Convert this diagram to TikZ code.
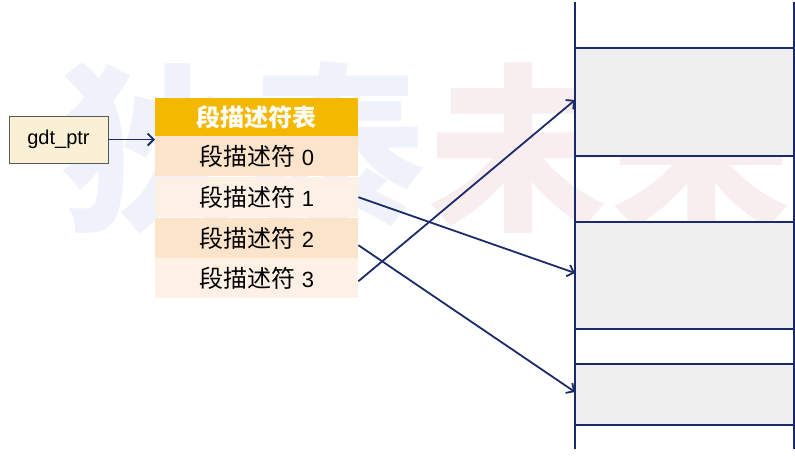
\documentclass[tikz,border=0pt]{standalone}
\usepackage{fontspec}
\setmainfont{Liberation Sans}
\newfontfamily\cjk{Noto Sans CJK SC}
\newfontfamily\lat{Liberation Sans}
\usetikzlibrary{arrows.meta,positioning}
\definecolor{navy}{HTML}{1B2A6B}
\definecolor{hdrc}{HTML}{F5B800}
\definecolor{rowa}{HTML}{FCE4CA}
\definecolor{rowb}{HTML}{FDF1E5}
\definecolor{ptrfill}{HTML}{FAF0D6}
\definecolor{memfill}{HTML}{EFEFEF}
\definecolor{wmblue}{HTML}{EFF2FA}
\definecolor{wmpink}{HTML}{F8EEF0}
\newcommand{\dg}[1]{{\lat\fontsize{22}{22}\selectfont #1}}
\tikzset{
  row/.style={minimum width=203pt, minimum height=40pt, inner sep=0pt, anchor=north west, text=black, font=\fontsize{24}{24}\selectfont},
  wm/.style={inner sep=0pt, font=\cjk\bfseries\fontsize{180}{180}\selectfont},
  arr/.style={draw=navy, line width=1.8pt, -{Straight Barb[length=6pt,width=12pt,line width=1.8pt]}},
  memline/.style={draw=navy, line width=2pt},
}
\begin{document}
\begin{tikzpicture}[x=1pt,y=-1pt]
\useasboundingbox (0,0) rectangle (795,461);
% watermark
\node[wm, text=wmblue] (w1) at (150,148) {狄};
\node[wm, text=wmblue] (w2) at (335,148) {泰};
\node[wm, text=wmpink] (w3) at (518,148) {未};
\node[wm, text=wmpink] (w4) at (701,148) {来};
% memory
\fill[memfill] (575,48) rectangle (794,156);
\fill[memfill] (575,222) rectangle (794,329);
\fill[memfill] (575,364) rectangle (794,425);
\foreach \yy in {48,156,222,329,364,425}{\draw[memline] (575,\yy) -- (794,\yy);}
\draw[memline] (575,2) -- (575,449);
\draw[memline] (794,2) -- (794,449);
\coordinate (m1) at (575,100);
\coordinate (m2) at (575,273);
\coordinate (m3) at (575,392);
% pointer
\node[draw=black!65, line width=0.8pt, fill=ptrfill, minimum width=99pt, minimum height=47pt, inner sep=0pt, font=\lat\fontsize{20}{20}\selectfont] (gdt) at (58.5,139.5) {gdt\_ptr};
% table
\node[row, fill=hdrc, minimum height=38pt, text=white] (hdr) at (155,98) {\cjk\bfseries 段描述符表};
\node[row, fill=rowa] (r0) at (155,136) {{\cjk 段描述符} \dg{0}};
\node[row, fill=rowb] (r1) at (155,177) {{\cjk 段描述符} \dg{1}};
\node[row, fill=rowa] (r2) at (155,218) {{\cjk 段描述符} \dg{2}};
\node[row, fill=rowb] (r3) at (155,258) {{\cjk 段描述符} \dg{3}};
% connectors
\draw[arr] (gdt.east) -- (gdt.east -| hdr.west);
\draw[arr] ([yshift=-3pt]r3.east) -- (m1);
\draw[arr] (r1.east) -- (m2);
\draw[arr] ([yshift=-7pt]r2.east) -- (m3);
\end{tikzpicture}
\end{document}
